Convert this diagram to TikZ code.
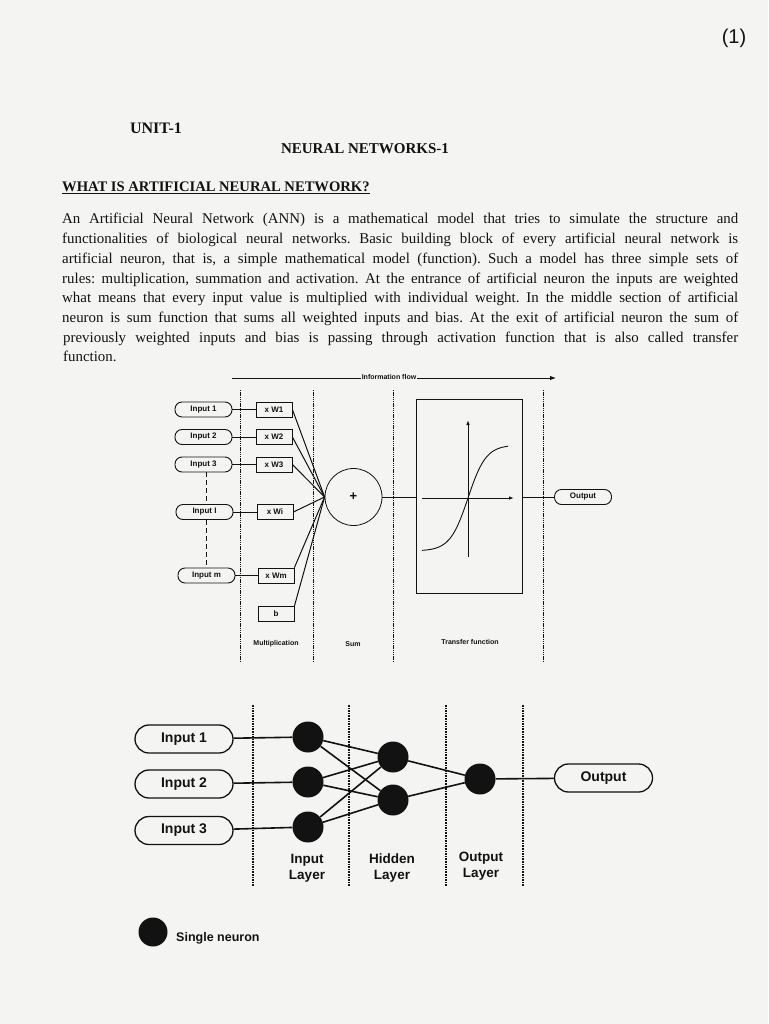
\documentclass[tikz,border=0pt]{standalone}
\usepackage{fontspec}
\setmainfont{Liberation Serif}
\setsansfont{Liberation Sans}
\usetikzlibrary{arrows.meta,calc}
\definecolor{paper}{HTML}{F4F4F2}
\definecolor{ink}{HTML}{121212}
\tikzset{
  pillA/.style={draw=ink, line width=0.9pt, rounded corners=7pt, minimum width=57pt, minimum height=15pt, inner sep=0pt, text=ink, font=\sffamily\bfseries\fontsize{8}{9}\selectfont},
  wbox/.style={draw=ink, line width=0.8pt, minimum width=36pt, minimum height=15pt, inner sep=0pt, text=ink, font=\sffamily\bfseries\fontsize{8}{9}\selectfont},
  pillB/.style={draw=ink, line width=1.3pt, rounded corners=14pt, minimum width=98pt, minimum height=28pt, inner sep=0pt, text=ink, font=\sffamily\bfseries\fontsize{14}{15}\selectfont},
  neuron/.style={circle, fill=ink, minimum size=31pt, inner sep=0pt},
  divA/.style={draw=ink, line width=0.7pt, dash pattern=on 1.3pt off 0.9pt},
  divB/.style={draw=ink, line width=1.3pt, dash pattern=on 1.6pt off 1pt},
  lbl/.style={text=ink, inner sep=0pt, font=\sffamily\bfseries\fontsize{7}{8}\selectfont},
  lyr/.style={text=ink, inner sep=0pt, align=center, font=\sffamily\bfseries\fontsize{13.5}{16}\selectfont},
  wire/.style={draw=ink, line width=1pt},
  wireB/.style={draw=ink, line width=1.6pt},
  body/.style={anchor=base west, inner sep=0pt, text=ink, font=\frenchspacing\fontsize{14.9}{16}\selectfont},
}
\begin{document}
\begin{tikzpicture}[x=1pt,y=-1pt]
\fill[paper] (0,0) rectangle (768,1024);
\useasboundingbox (0,0) rectangle (768,1024);

% page mark
\node[text=ink, font=\sffamily\fontsize{20}{22}\selectfont, inner sep=0pt] (mark) at (734,38) {(1)};

% headings
\node[anchor=base, inner sep=0pt, text=ink, font=\bfseries\fontsize{16}{18}\selectfont] (unit) at (156,134) {UNIT-1};
\node[anchor=base, inner sep=0pt, text=ink, font=\bfseries\fontsize{15}{17}\selectfont] (nn) at (365,154) {NEURAL NETWORKS-1};
\node[anchor=base west, inner sep=0pt, text=ink, font=\bfseries\fontsize{14.6}{17}\selectfont] (what) at (62,192) {\underline{WHAT IS ARTIFICIAL NEURAL NETWORK?}};

% paragraph
\node[body] (l1) at (62,224.0) {\makebox[676pt][s]{An Artificial Neural Network (ANN) is a mathematical model that tries to simulate the structure and}};
\node[body] (l2) at (62,243.7) {\makebox[676pt][s]{functionalities of biological neural networks. Basic building block of every artificial neural network is}};
\node[body] (l3) at (62,263.4) {\makebox[676pt][s]{artificial neuron, that is, a simple mathematical model (function). Such a model has three simple sets of}};
\node[body] (l4) at (62,283.1) {\makebox[676pt][s]{rules: multiplication, summation and activation. At the entrance of artificial neuron the inputs are weighted}};
\node[body] (l5) at (62,302.8) {\makebox[676pt][s]{what means that every input value is multiplied with individual weight. In the middle section of artificial}};
\node[body] (l6) at (62,322.5) {\makebox[676pt][s]{neuron is sum function that sums all weighted inputs and bias. At the exit of artificial neuron the sum of}};
\node[body] (l7) at (63,342.2) {\makebox[675pt][s]{previously weighted inputs and bias is passing through activation function that is also called transfer}};
\node[body] (l8) at (63,361.9) {function.};

% ---------------- upper diagram ----------------
\coordinate (flowL) at (232,378);
\coordinate (flowR) at (556,378);
\draw[wire, line width=0.9pt, -{Latex[length=6pt,width=4.5pt]}] (flowL) -- (flowR);
\node[lbl, fill=paper, inner xsep=1pt, inner ysep=2pt] (flow) at (389,377) {Information flow};

\foreach \x in {240,313,393,543} \draw[divA] (\x,390) -- (\x,662);

\node[pillA] (i1) at (203.5,409.5) {Input 1};
\node[pillA] (i2) at (203.5,437) {Input 2};
\node[pillA] (i3) at (203.5,464.5) {Input 3};
\node[pillA] (ii) at (204.5,512) {Input I};
\node[pillA] (im) at (206.5,575.5) {Input m};

\node[wbox] (w1) at (274,409.5) {x W1};
\node[wbox] (w2) at (274,437) {x W2};
\node[wbox] (w3) at (274,464.5) {x W3};
\node[wbox] (wi) at (275,512) {x Wi};
\node[wbox] (wm) at (276,575.5) {x Wm};
\node[wbox] (b) at (276,614) {b};

\draw[wire, dash pattern=on 5pt off 3pt] (i3.south -| 206,0) -- (ii.north -| 206,0);
\draw[wire, dash pattern=on 5pt off 3pt] (ii.south -| 206,0) -- (im.north -| 206,0);

\foreach \a/\w in {i1/w1,i2/w2,i3/w3,ii/wi,im/wm} \draw[wire] (\a) -- (\w);

\node[circle, draw=ink, line width=0.8pt, minimum size=57pt, inner sep=0pt, text=ink, font=\sffamily\bfseries\fontsize{13}{14}\selectfont] (sum) at (353.5,497) {+};

\draw[wire] (w1.east) -- (sum.west);
\draw[wire] (w2.east) -- (sum.west);
\draw[wire] (w3.east) -- (sum.west);
\draw[wire] (wi.east) -- (sum.west);
\draw[wire] (wm.north east) -- (sum.west);
\draw[wire] (b.north east) -- (sum.west);

\node[draw=ink, line width=0.8pt, minimum width=106pt, minimum height=194pt, inner sep=0pt] (tf) at (469,496) {};
\draw[wire] (sum.east) -- (sum.east -| tf.west);

% axes and sigmoid
\coordinate (ax0) at (422,498);
\coordinate (ax1) at (514,498);
\coordinate (ay0) at (468,557);
\coordinate (ay1) at (468,420);
\draw[wire, line width=0.9pt, -{Latex[length=5pt,width=3.5pt]}] (ax0) -- (ax1);
\draw[wire, line width=0.9pt, -{Latex[length=5pt,width=3.5pt]}] (ay0) -- (ay1);
\draw[ink, line width=0.9pt, smooth, samples=60, domain=-46:40] plot ({468+\x},{498-53*tanh(\x/18)});

\node[pillA] (out) at (583,497) {Output};
\draw[wire] (tf.east |- out) -- (out.west);

\node[lbl] (mul) at (276,644) {Multiplication};
\node[lbl] (sm) at (353,644) {Sum};
\node[lbl] (tfl) at (470,642) {Transfer function};

% ---------------- lower diagram ----------------
\foreach \x in {253,349,446,523} \draw[divB] (\x,705) -- (\x,886);

\node[pillB] (p1) at (184,739) {Input 1};
\node[pillB] (p2) at (184,784) {Input 2};
\node[pillB] (p3) at (184,830.5) {Input 3};

\node[neuron] (n1) at (308,737) {};
\node[neuron] (n2) at (308,782) {};
\node[neuron] (n3) at (308,827) {};
\node[neuron] (h1) at (393,757) {};
\node[neuron] (h2) at (393,800) {};
\node[neuron] (o) at (480,779) {};
\node[pillB] (po) at (603.5,778) {Output};

\draw[wireB] (p1) -- (n1);
\draw[wireB] (p2) -- (n2);
\draw[wireB] (p3) -- (n3);
\foreach \n in {n1,n2,n3} { \draw[wireB] (\n) -- (h1); \draw[wireB] (\n) -- (h2); }
\draw[wireB] (h1) -- (o);
\draw[wireB] (h2) -- (o);
\draw[wireB] (o) -- (po);

\node[lyr] (li) at (307,868) {Input\\Layer};
\node[lyr] (lh) at (392,868) {Hidden\\Layer};
\node[lyr] (lo) at (481,866) {Output\\Layer};

\node[neuron, minimum size=29pt] (leg) at (153,932) {};
\node[anchor=west, inner sep=0pt, text=ink, font=\sffamily\bfseries\fontsize{12.5}{14}\selectfont] (legt) at (176,938) {Single neuron};
\end{tikzpicture}
\end{document}
